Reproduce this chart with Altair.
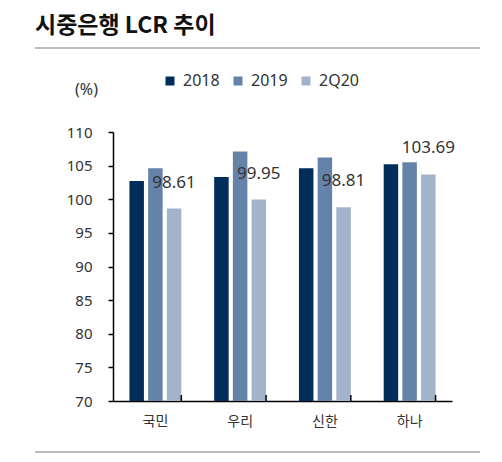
import altair as alt
import pandas as pd

title_text = "시중은행 LCR 추이"
banks = ["국민", "우리", "신한", "하나"]
series = ["2018", "2019", "2Q20"]
v2018 = [102.7, 103.3, 104.6, 105.2]
v2019 = [104.6, 107.1, 106.2, 105.5]
v2q20 = [98.61, 99.95, 98.81, 103.69]
colors = ["#002D5A", "#6582A8", "#A3B3CB"]
y_ticks = [70, 75, 80, 85, 90, 95, 100, 105, 110]

rows = []
for s, vals in zip(series, [v2018, v2019, v2q20]):
    for b, v in zip(banks, vals):
        rows.append({"bank": b, "series": s, "value": v})
df = pd.DataFrame(rows)

W, H = 339, 269
LAT = "Noto Sans"
KR = "Noto Sans CJK KR"

x_enc = alt.X(
    "bank:N", sort=banks, title=None,
    scale=alt.Scale(paddingInner=0.388, paddingOuter=0.194),
    axis=alt.Axis(labelAngle=0, ticks=False, domainColor="#000000", domainWidth=1.5,
                  labelFont=KR, labelFontSize=14, labelColor="#333333", labelPadding=13),
)
xoff_enc = alt.XOffset("series:N", sort=series,
                       scale=alt.Scale(domain=series, paddingInner=0.225, paddingOuter=0))
y_enc = alt.Y(
    "value:Q",
    scale=alt.Scale(domain=[70, 110], zero=False, nice=False),
    axis=alt.Axis(values=y_ticks, grid=False, labelOverlap=False,
                  domainColor="#000000", domainWidth=1.5,
                  tickColor="#000000", tickWidth=1.5, tickSize=5,
                  labelFont=LAT, labelFontSize=15, labelColor="#333333", labelPadding=16,
                  title="(%)", titleAngle=0, titleX=-27, titleY=-43, titleAlign="center",
                  titleBaseline="middle", titleFont=LAT, titleFontSize=16,
                  titleFontWeight="normal", titleColor="#333333"),
)

bars = alt.Chart(df).mark_bar().encode(
    x=x_enc, xOffset=xoff_enc, y=y_enc, y2=alt.datum(70),
    color=alt.Color("series:N", sort=series,
                    scale=alt.Scale(domain=series, range=colors),
                    legend=alt.Legend(title=None, orient="none", direction="horizontal",
                                      legendX=49, legendY=-59, padding=0,
                                      symbolType="square", symbolSize=81, symbolStrokeWidth=0,
                                      labelFont=LAT, labelFontSize=16, labelColor="#333333",
                                      labelOffset=5, columnPadding=10)),
)

labels = alt.Chart(df).transform_filter(alt.datum.series == "2Q20").mark_text(
    font=LAT, fontSize=17, color="#333333", baseline="middle", dy=-26
).encode(
    x=x_enc, xOffset=xoff_enc,
    y=y_enc, text=alt.Text("value:Q", format=".2f"),
)

ticks = alt.Chart(df).transform_filter(alt.datum.series == "2018").mark_rule(
    color="#000000", strokeWidth=1.5
).encode(
    x=alt.X("bank:N", sort=banks, bandPosition=1),
    y=alt.value(H), y2=alt.value(H - 6),
)

rules = alt.Chart(pd.DataFrame({"yy": [-84, 320]})).mark_rule(
    color="#A6A6A6", strokeWidth=1.5
).encode(x=alt.value(-78), x2=alt.value(367), y=alt.Y("yy:Q", scale=None))

chart = alt.layer(bars, labels, ticks, rules).properties(
    width=W, height=H,
    title=alt.TitleParams(title_text, anchor="start", frame="group", orient="top",
                          dx=-78, offset=-2, baseline="middle",
                          font=KR, fontSize=23, fontWeight="bold", color="#111111"),
    autosize=alt.AutoSizeParams(type="none"),
    padding={"left": 105, "top": 124, "right": 30, "bottom": 52},
).configure_view(stroke=None)

chart.save("out.html", embed_options={"renderer": "svg", "actions": False})
